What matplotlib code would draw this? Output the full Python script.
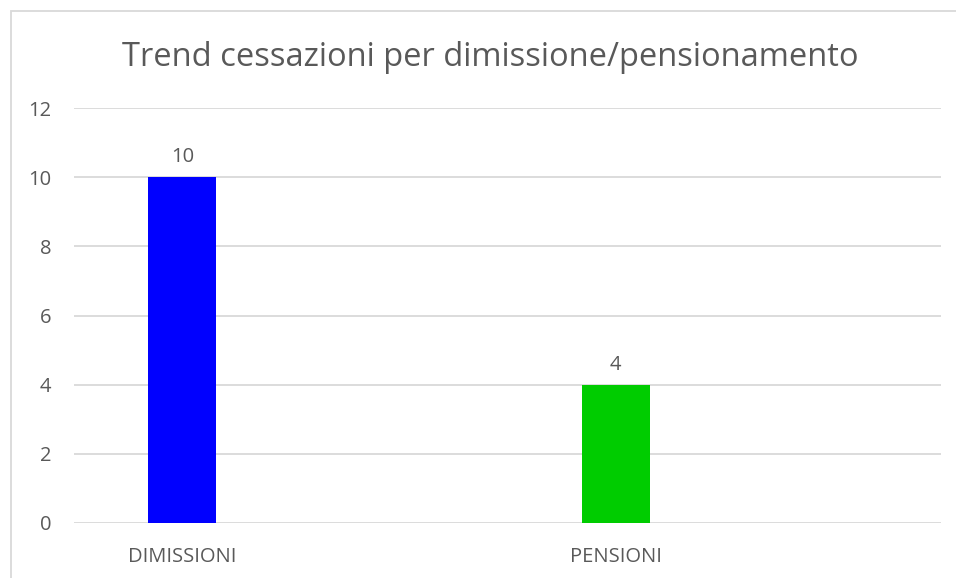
import matplotlib.pyplot as plt
from matplotlib.patches import Rectangle

categories = ['DIMISSIONI', 'PENSIONI']
values = [10, 4]
colors = ['#0000FF', '#00CC00']
yticks = [0, 2, 4, 6, 8, 10, 12]

plt.rcParams['font.family'] = ['Open Sans', 'DejaVu Sans']
gray = '#595959'

fig = plt.figure(figsize=(9.56, 5.78), dpi=100)
ax = fig.add_axes([0.0774, 0.0952, 0.9069, 0.7179])

x = list(range(len(categories)))
bars = ax.bar(x, values, width=0.157, color=colors, zorder=3)
for b, v in zip(bars, values):
    ax.annotate(str(v), (b.get_x() + b.get_width() / 2, v), xytext=(0, 14.5),
                textcoords='offset points', ha='center', va='center',
                fontsize=14.5, color=gray)

ax.set_xlim(-0.25, 1.75)
ax.set_ylim(0, 12)
ax.set_yticks(yticks)
ax.set_xticks(x)
ax.set_xticklabels(categories)
ax.tick_params(axis='both', length=0, labelsize=14.5, labelcolor=gray)
ax.tick_params(axis='x', pad=17)
ax.tick_params(axis='y', pad=16.5)
ax.grid(axis='y', color='#D9D9D9', linewidth=1.3, zorder=0)
for s in ax.spines.values():
    s.set_visible(False)

fig.text(0.5125, 0.90, 'Trend cessazioni per dimissione/pensionamento',
         ha='center', va='center', fontsize=23.5, color=gray)

# outer chart border
fig.patches.append(Rectangle((10.5 / 956, -0.01), 1.0, 1.0 - 10.5 / 578 + 0.01,
                             transform=fig.transFigure, fill=False,
                             edgecolor='#D9D9D9', linewidth=1.3))

fig.savefig('out.png', dpi=100)
